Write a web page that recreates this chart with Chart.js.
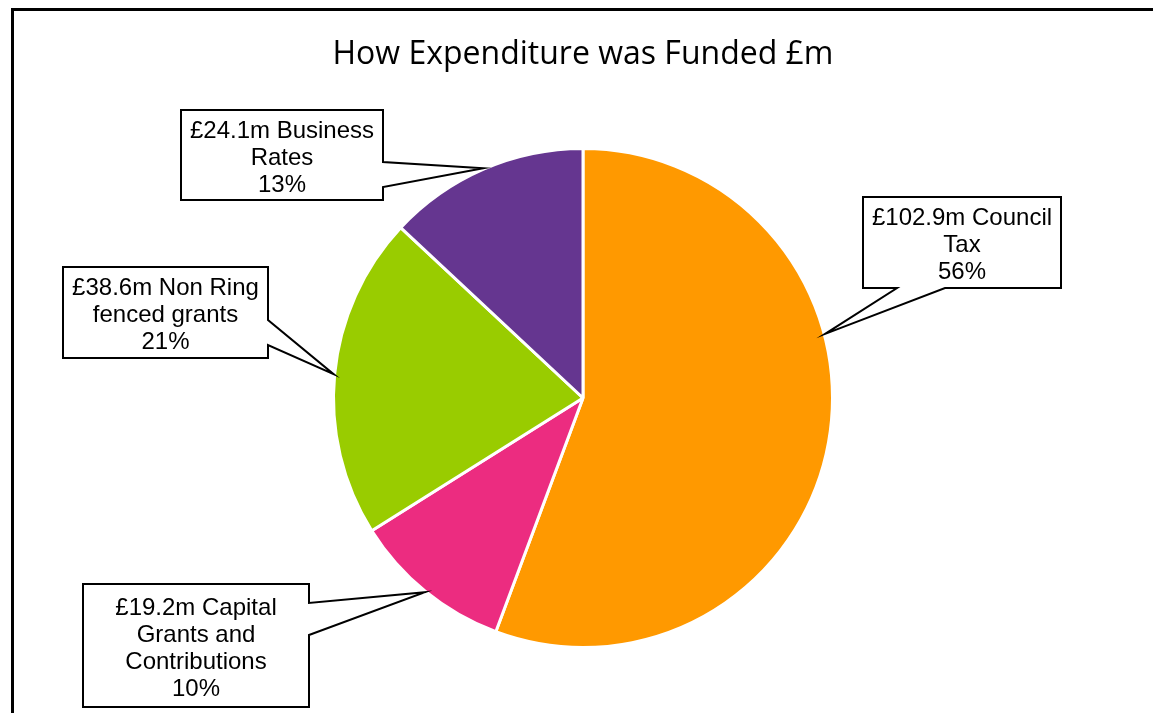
<!DOCTYPE html>
<html>
<head>
<meta charset="utf-8">
<script src="https://cdn.jsdelivr.net/npm/chart.js@4/dist/chart.umd.min.js"></script>
<style>
  html, body { margin: 0; padding: 0; background: #fff; }
  canvas { display: block; }
</style>
</head>
<body>
<canvas id="c" width="1153" height="713"></canvas>
<script>
// ---- Data ----
const categories = ['Council Tax', 'Capital Grants and Contributions', 'Non Ring fenced grants', 'Business Rates'];
const valuesM = [102.9, 19.2, 38.6, 24.1];
const sliceColors = ['#FF9900', '#EC2C80', '#99CC00', '#653690'];
const titleText = 'How Expenditure was Funded £m';

// ---- Callout layout (box geometry, pointer base, pointer position within slice) ----
const calloutLayout = [
  { x0: 863, y0: 197, x1: 1061, y1: 288, side: 'bottom', b1: 897, b2: 945, frac: 0.375 },
  { x0: 83,  y0: 584, x1: 309,  y1: 707, side: 'right',  b1: 603, b2: 635, frac: 0.5 },
  { x0: 63,  y0: 267, x1: 268,  y1: 358, side: 'right',  b1: 320, b2: 345, frac: 0.5 },
  { x0: 181, y0: 110, x1: 383,  y1: 200, side: 'right',  b1: 162, b2: 187, frac: 0.5 }
];

const labelFont = '24px "Liberation Sans", Arial, sans-serif';
const lineH = 27;
const textShift = 3;

function wrapWords(ctx, text, maxW) {
  const words = text.split(' ');
  const lines = [];
  let cur = '';
  for (const w of words) {
    const t = cur ? cur + ' ' + w : w;
    if (cur && ctx.measureText(t).width > maxW) { lines.push(cur); cur = w; }
    else cur = t;
  }
  if (cur) lines.push(cur);
  return lines;
}

const frame = {
  id: 'frame',
  afterDraw(chart) {
    const ctx = chart.ctx;
    ctx.save();
    ctx.strokeStyle = '#000';
    ctx.lineWidth = 3;
    ctx.beginPath();
    ctx.moveTo(12.5, 720);
    ctx.lineTo(12.5, 9.5);
    ctx.lineTo(1160, 9.5);
    ctx.stroke();
    ctx.restore();
  }
};

const callouts = {
  id: 'callouts',
  afterDatasetsDraw(chart) {
    const ctx = chart.ctx;
    const meta = chart.getDatasetMeta(0);
    const data = chart.data.datasets[0].data;
    const total = data.reduce((a, b) => a + b, 0);
    ctx.save();
    ctx.font = labelFont;
    meta.data.forEach((arc, i) => {
      const L = calloutLayout[i];
      const p = arc.getProps(['x', 'y', 'startAngle', 'endAngle', 'outerRadius'], true);
      const ang = p.startAngle + L.frac * (p.endAngle - p.startAngle);
      const R = p.outerRadius + 1;
      const tx = p.x + Math.cos(ang) * R;
      const ty = p.y + Math.sin(ang) * R;

      ctx.beginPath();
      if (L.side === 'right') {
        ctx.moveTo(L.x0, L.y0);
        ctx.lineTo(L.x1, L.y0);
        ctx.lineTo(L.x1, L.b1);
        ctx.lineTo(tx, ty);
        ctx.lineTo(L.x1, L.b2);
        ctx.lineTo(L.x1, L.y1);
        ctx.lineTo(L.x0, L.y1);
      } else {
        ctx.moveTo(L.x0, L.y0);
        ctx.lineTo(L.x1, L.y0);
        ctx.lineTo(L.x1, L.y1);
        ctx.lineTo(L.b2, L.y1);
        ctx.lineTo(tx, ty);
        ctx.lineTo(L.b1, L.y1);
        ctx.lineTo(L.x0, L.y1);
      }
      ctx.closePath();
      ctx.fillStyle = '#fff';
      ctx.fill();
      ctx.strokeStyle = '#000';
      ctx.lineWidth = 2;
      ctx.lineJoin = 'miter';
      ctx.stroke();

      const pct = Math.round(data[i] / total * 100) + '%';
      const lines = wrapWords(ctx, '£' + data[i].toFixed(1) + 'm ' + chart.data.labels[i], (L.x1 - L.x0) - 10);
      lines.push(pct);
      const cx = (L.x0 + L.x1) / 2;
      const cy = (L.y0 + L.y1) / 2 + textShift;
      ctx.fillStyle = '#000';
      ctx.textAlign = 'center';
      ctx.textBaseline = 'middle';
      lines.forEach((ln, k) => {
        ctx.fillText(ln, cx, cy + (k - (lines.length - 1) / 2) * lineH);
      });
    });
    ctx.restore();
  }
};

new Chart(document.getElementById('c'), {
  type: 'pie',
  data: {
    labels: categories,
    datasets: [{
      data: valuesM,
      backgroundColor: sliceColors,
      borderColor: '#fff',
      borderWidth: 3
    }]
  },
  options: {
    responsive: false,
    animation: false,
    devicePixelRatio: 1,
    layout: { padding: { top: 0, bottom: 64, left: 100, right: 87 } },
    plugins: {
      legend: { display: false },
      tooltip: { enabled: false },
      title: {
        display: true,
        text: titleText,
        color: '#000',
        font: { family: '"Open Sans", sans-serif', size: 32, weight: 'normal', lineHeight: 1.2 },
        padding: { top: 36, bottom: 72.6 }
      }
    }
  },
  plugins: [callouts, frame]
});
</script>
</body>
</html>
